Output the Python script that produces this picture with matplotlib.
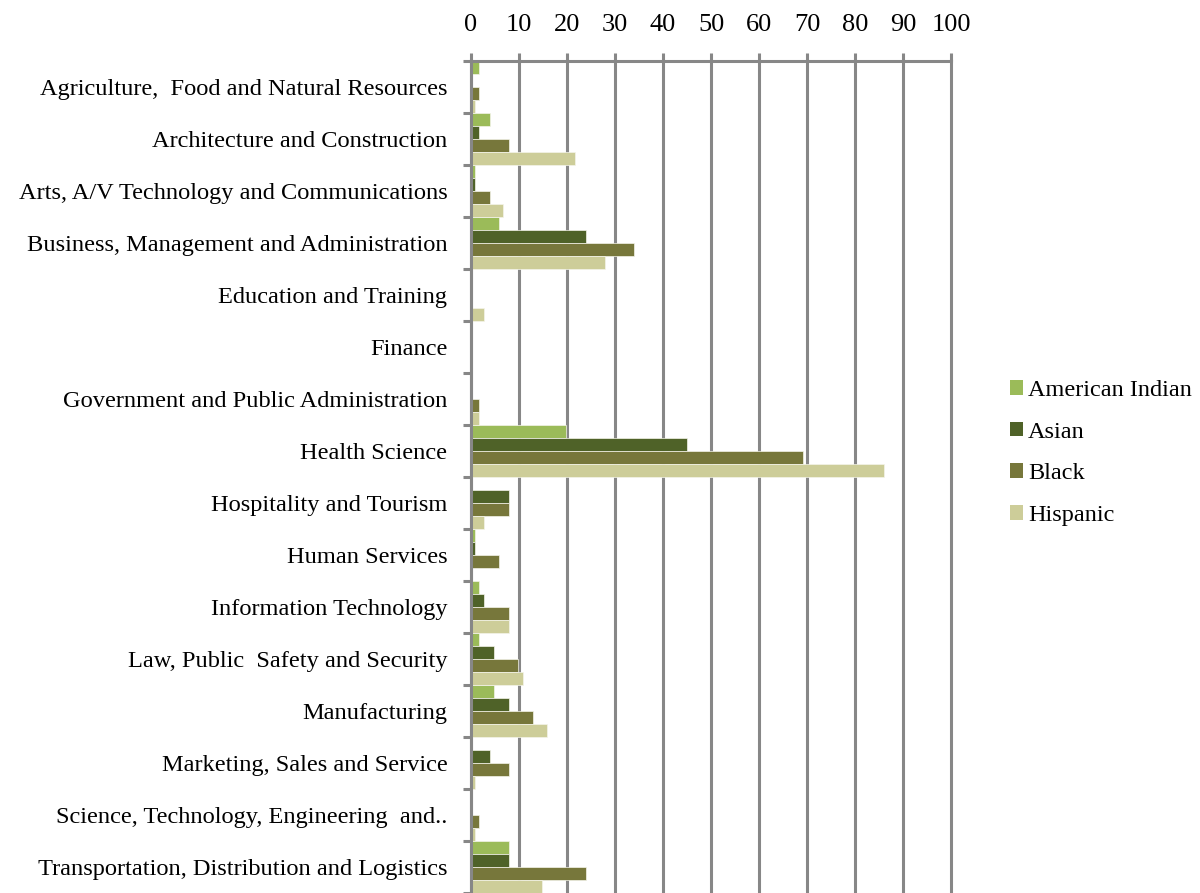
import numpy as np
import matplotlib
matplotlib.use("Agg")
import matplotlib.pyplot as plt
from matplotlib.patches import Patch

plt.rcParams["font.family"] = ["Liberation Serif", "DejaVu Serif"]

categories = [
    "Agriculture,  Food and Natural Resources",
    "Architecture and Construction",
    "Arts, A/V Technology and Communications",
    "Business, Management and Administration",
    "Education and Training",
    "Finance",
    "Government and Public Administration",
    "Health Science",
    "Hospitality and Tourism",
    "Human Services",
    "Information Technology",
    "Law, Public  Safety and Security",
    "Manufacturing",
    "Marketing, Sales and Service",
    "Science, Technology, Engineering  and..",
    "Transportation, Distribution and Logistics",
]

american_indian = [1.7, 4.0, 0.8, 5.9, 0, 0, 0, 19.8, 0, 0.8, 1.7, 1.7, 4.7, 0, 0, 7.9]
asian = [0, 1.7, 0.8, 24.0, 0, 0, 0, 44.9, 7.9, 0.8, 2.8, 4.7, 7.9, 4.0, 0, 7.9]
black = [1.7, 7.9, 4.0, 34.0, 0, 0, 1.7, 69.1, 7.9, 5.9, 7.9, 9.8, 12.9, 7.9, 1.7, 24.0]
hispanic = [0.8, 21.7, 6.7, 27.9, 2.8, 0, 1.7, 86.1, 2.8, 0, 7.9, 10.9, 15.9, 0.8, 0.8, 14.7]

series = [
    ("American Indian", american_indian, "#9bbb59"),
    ("Asian", asian, "#4f6228"),
    ("Black", black, "#77773b"),
    ("Hispanic", hispanic, "#cdcd99"),
]

grid_color = "#878787"

fig = plt.figure(figsize=(12, 8.93), dpi=100)
ax = fig.add_axes([471 / 1200, 0.0, 480 / 1200, 1 - 61 / 893])

n = len(categories)
y = np.arange(n)
h = 0.25
for i, (name, vals, color) in enumerate(series):
    ax.barh(y - 0.5 + h * (i + 0.5), vals, height=h, color=color,
            edgecolor="#f4f4ea", linewidth=0.5, zorder=3)

ax.set_xlim(0, 100)
ax.set_ylim(n - 0.5, -0.5)

# value axis on top, vertical gridlines
ax.xaxis.tick_top()
ax.set_xticks(np.arange(0, 101, 10))
ax.tick_params(axis="x", which="major", length=6, width=2.2, color=grid_color,
               labelsize=19, pad=12)
ax.grid(axis="x", color=grid_color, linewidth=2.2, zorder=1)
for line in ax.get_xgridlines():
    line.set_clip_on(False)

# category labels with boundary ticks
ax.set_yticks(y)
ax.set_yticklabels(categories)
ax.set_yticks(np.arange(n + 1) - 0.5, minor=True)
ax.tick_params(axis="y", which="major", length=0, labelsize=17.6, pad=17)
ax.tick_params(axis="y", which="minor", length=6, width=2.2, color=grid_color)

for side in ["right", "bottom"]:
    ax.spines[side].set_visible(False)
for side in ["top", "left"]:
    ax.spines[side].set_color(grid_color)
    ax.spines[side].set_linewidth(2.2)
    ax.spines[side].set_zorder(4)

handles = [Patch(facecolor=c, edgecolor="none", label=name) for name, _, c in series]
fig.legend(handles=handles, loc="center left", bbox_to_anchor=(1000 / 1200, 1 - 453 / 893),
           frameon=False, fontsize=17.5, handlelength=0.55, handleheight=0.55,
           handletextpad=0.2, labelspacing=0.85, borderaxespad=0)

fig.savefig("out.png", dpi=100)
